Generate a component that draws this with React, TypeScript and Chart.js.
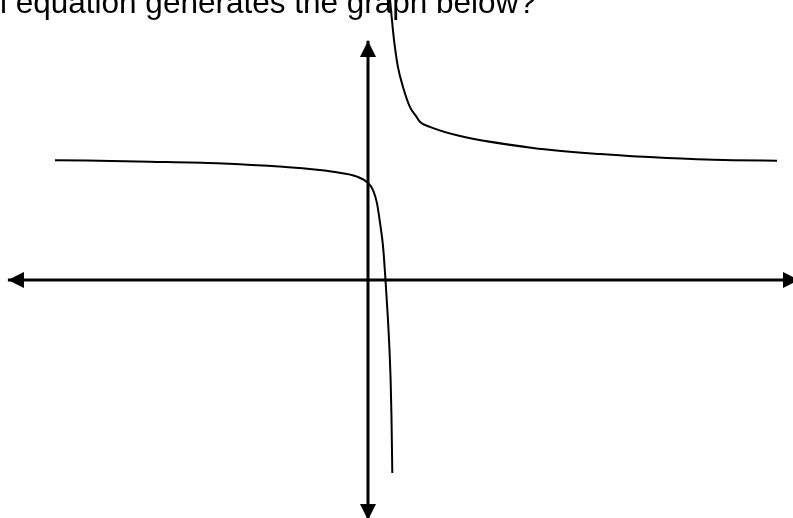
import React, { useEffect, useRef } from "react";
import { Chart, registerables } from "chart.js";

Chart.register(...registerables);

// Visible part of the question text above the graph
const questionText = "l equation generates the graph below?";

// Left branch of the curve (x, y in graph units)
const leftBranchX = [-11.18, -7.79, -5.39, -3.04, -1.25, -0.39, 0, 0.18, 0.32, 0.43, 0.54, 0.625, 0.707, 0.768, 0.811, 0.839, 0.868];
const leftBranchY = [3.93, 3.88, 3.83, 3.71, 3.55, 3.39, 3.18, 2.95, 2.52, 1.87, 1.08, 0, -1.21, -2.3, -3.38, -4.49, -6.33];

// Right branch of the curve
const rightBranchX = [0.78, 0.89, 0.96, 1.07, 1.25, 1.5, 1.71, 1.86, 2.21, 3.29, 5.89, 8.29, 10.68, 13.04, 14.61];
const rightBranchY = [9.25, 8.2, 7.64, 6.98, 6.33, 5.67, 5.38, 5.18, 5.02, 4.72, 4.33, 4.13, 4.0, 3.93, 3.91];

// Axis extents (arrow tips)
const xAxisEnds = [-12.86, 15.39];
const yAxisEnds = [7.84, -7.87];

function zip(xs: number[], ys: number[]) {
  return xs.map((x, i) => ({ x, y: ys[i] }));
}

function makeArrow(): HTMLCanvasElement {
  const c = document.createElement("canvas");
  c.width = 32;
  c.height = 16;
  const ctx = c.getContext("2d")!;
  ctx.fillStyle = "#000";
  ctx.beginPath();
  ctx.moveTo(0, 0);
  ctx.lineTo(16, 8);
  ctx.lineTo(0, 16);
  ctx.closePath();
  ctx.fill();
  return c;
}

export default function App() {
  const ref = useRef<HTMLCanvasElement | null>(null);

  useEffect(() => {
    if (!ref.current) return;
    const arrow = makeArrow();
    const chart = new Chart(ref.current, {
      type: "scatter",
      data: {
        datasets: [
          {
            data: xAxisEnds.map((x) => ({ x, y: 0 })),
            showLine: true,
            borderColor: "#000",
            backgroundColor: "#000",
            borderWidth: 3,
            tension: 0,
            pointStyle: arrow as any,
            pointRadius: 12,
            pointRotation: [180, 0] as any,
            clip: false as any,
          },
          {
            data: yAxisEnds.map((y) => ({ x: 0, y })),
            showLine: true,
            borderColor: "#000",
            backgroundColor: "#000",
            borderWidth: 3,
            tension: 0,
            pointStyle: arrow as any,
            pointRadius: 12,
            pointRotation: [-90, 90] as any,
            clip: false as any,
          },
          {
            data: zip(leftBranchX, leftBranchY),
            showLine: true,
            borderColor: "#000",
            borderWidth: 2,
            cubicInterpolationMode: "monotone",
            pointRadius: 0,
          },
          {
            data: zip(rightBranchX, rightBranchY),
            showLine: true,
            borderColor: "#000",
            borderWidth: 2,
            cubicInterpolationMode: "monotone",
            pointRadius: 0,
          },
        ],
      },
      options: {
        responsive: false,
        animation: false,
        devicePixelRatio: 1,
        layout: { padding: 0, autoPadding: false },
        events: [],
        plugins: {
          legend: { display: false },
          tooltip: { enabled: false },
          title: { display: false },
        },
        scales: {
          x: { type: "linear", display: false, min: -13.143, max: 15.179 },
          y: { type: "linear", display: false, min: -7.803, max: 9.18 },
        },
      },
    });
    return () => chart.destroy();
  }, []);

  return (
    <div
      style={{
        position: "fixed",
        left: 0,
        top: 0,
        width: 793,
        height: 518,
        overflow: "hidden",
        background: "#fff",
      }}
    >
      <canvas
        ref={ref}
        width={793}
        height={518}
        style={{ position: "absolute", left: 0, top: 0, width: 793, height: 518, display: "block" }}
      />
      <div
        style={{
          position: "absolute",
          left: 0,
          top: -13,
          fontFamily: '"Liberation Sans", Arial, sans-serif',
          fontSize: 31.5,
          lineHeight: "31px",
          color: "#000",
          whiteSpace: "nowrap",
          pointerEvents: "none",
        }}
      >
        {questionText}
      </div>
    </div>
  );
}
